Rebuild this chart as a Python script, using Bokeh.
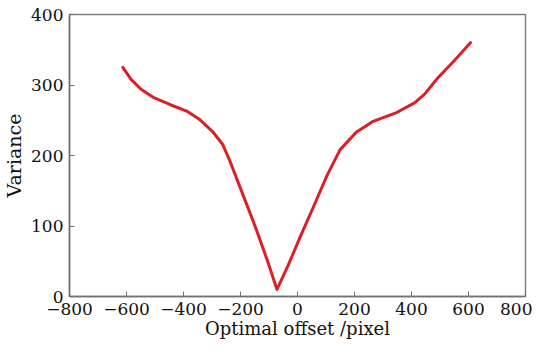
from bokeh.plotting import figure
from bokeh.models import FixedTicker, Range1d
from bokeh.embed import file_html
from bokeh.resources import INLINE

offset = [-613, -584, -549, -504, -446, -389, -343, -298, -263, -240, -194, -149, -103, -72,
          -34, 11, 57, 103, 149, 206, 263, 343, 412, 446, 492, 549, 607]
variance = [325, 308, 294, 282, 272, 263, 251, 234, 216, 195, 147, 100, 48, 10,
            43, 86, 128, 171, 208, 233, 248, 260, 275, 287, 310, 334, 360]
x_ticks = [-800, -600, -400, -200, 0, 200, 400, 600, 800]
y_ticks = [0, 100, 200, 300, 400]

FONT = "DejaVu Serif"

p = figure(width=532, height=345, output_backend="svg", toolbar_location=None,
           x_range=Range1d(-800, 800), y_range=Range1d(0, 400),
           min_border_left=59, min_border_right=7, min_border_top=14, min_border_bottom=49)
p.line(offset, variance, line_color="#dc1f26", line_width=3, line_join="round", line_cap="round")

p.grid.visible = False
p.outline_line_color = "#808080"
p.outline_line_width = 1.5
for ax in (p.xaxis[0], p.yaxis[0]):
    ax.axis_line_color = "#707070"
    ax.axis_line_width = 1.5
    ax.major_tick_line_color = "#707070"
    ax.major_tick_in = 5
    ax.major_tick_out = 0
    ax.minor_tick_line_color = None
    ax.major_label_text_font = FONT
    ax.major_label_text_font_size = "17px"
    ax.major_label_text_color = "#111111"
    ax.axis_label_text_font = FONT
    ax.axis_label_text_font_style = "normal"
    ax.axis_label_text_color = "#111111"

p.xaxis.axis_label_text_font_size = "18px"
p.yaxis.axis_label_text_font_size = "19px"
p.xaxis.ticker = FixedTicker(ticks=x_ticks)
p.yaxis.ticker = FixedTicker(ticks=y_ticks)
p.xaxis.major_label_overrides = {t: (("\u2212" + str(-t)) if t < 0 else str(t)) for t in x_ticks}
p.xaxis.axis_label = "Optimal offset /pixel"
p.yaxis.axis_label = "Variance"
p.xaxis.major_label_standoff = 6
p.xaxis.axis_label_standoff = 0
p.yaxis.major_label_standoff = 6
p.yaxis.axis_label_standoff = 3

open("out.html", "w").write(file_html(p, INLINE))
